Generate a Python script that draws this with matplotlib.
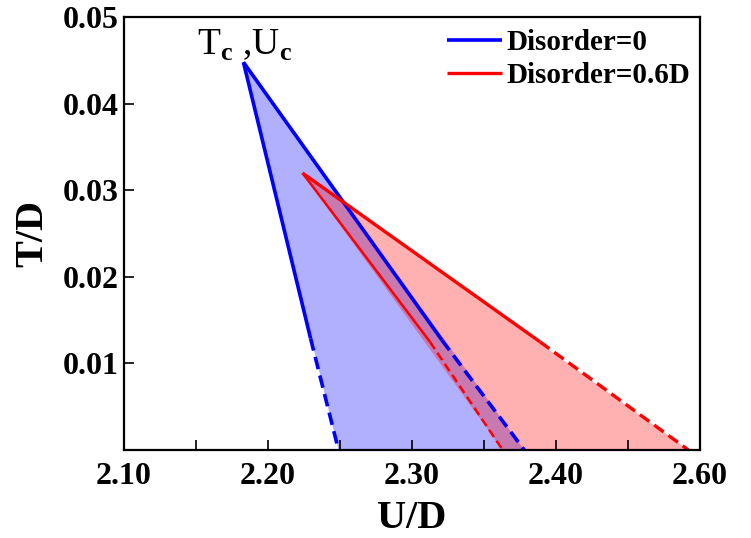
import matplotlib.pyplot as plt

plt.rcParams['font.family'] = 'Liberation Serif'
plt.rcParams['font.weight'] = 'bold'
plt.rcParams['mathtext.fontset'] = 'custom'
plt.rcParams['mathtext.rm'] = 'Liberation Serif'
plt.rcParams['mathtext.bf'] = 'Liberation Serif:bold'

# each boundary: top point, point where solid turns dashed, point at T=0
blue_left_U = [2.183, 2.2296, 2.249]
blue_left_T = [0.0448, 0.0129, 0.0]
blue_right_U = [2.183, 2.3208, 2.378]
blue_right_T = [0.0448, 0.0127, 0.0]
red_left_U = [2.224, 2.3125, 2.363]
red_left_T = [0.032, 0.0125, 0.0]
red_right_U = [2.224, 2.3889, 2.492]
red_right_T = [0.032, 0.0125, 0.0]

xticks = [2.10, 2.15, 2.20, 2.25, 2.30, 2.35, 2.40, 2.45, 2.50]
xticklabels = ['2.10', '', '2.20', '', '2.30', '', '2.40', '', '2.60']
yticks = [0.01, 0.02, 0.03, 0.04, 0.05]
yticklabels = ['0.01', '0.02', '0.03', '0.04', '0.05']

fig = plt.figure(figsize=(7.51, 5.38), dpi=100)
ax = fig.add_axes([0.165, 0.1636, 0.767, 0.8044])

dash = (0, (3.5, 1.8))

# shaded coexistence regions
ax.fill([blue_left_U[0], blue_left_U[2], blue_right_U[2]],
        [blue_left_T[0], blue_left_T[2], blue_right_T[2]],
        color='blue', alpha=0.31, lw=0)
ax.fill([red_left_U[0], red_left_U[2], red_right_U[2]],
        [red_left_T[0], red_left_T[2], red_right_T[2]],
        color='red', alpha=0.31, lw=0)

def boundary(U, T, color, lw, label=None):
    ax.plot(U[:2], T[:2], color=color, lw=lw, solid_capstyle='butt', label=label)
    ax.plot(U[1:], T[1:], color=color, lw=lw, linestyle=dash)

boundary(blue_left_U, blue_left_T, 'blue', 2.6, 'Disorder=0')
boundary(blue_right_U, blue_right_T, 'blue', 2.6)
boundary(red_right_U, red_right_T, 'red', 2.4, 'Disorder=0.6D')
boundary(red_left_U, red_left_T, 'red', 1.8)

ax.text(2.184, 0.0468, r'T$_{\mathbf{c}}$ ,U$_{\mathbf{c}}$', fontsize=27,
        fontweight='normal', ha='center', va='center')

ax.set_xlim(2.10, 2.50)
ax.set_ylim(0, 0.05)
ax.set_xticks(xticks)
ax.set_xticklabels(xticklabels)
ax.set_yticks(yticks)
ax.set_yticklabels(yticklabels)
ax.tick_params(direction='in', length=7, width=1.2, labelsize=23)
ax.tick_params(axis='x', pad=9)
ax.tick_params(axis='y', pad=4)
for s in ax.spines.values():
    s.set_linewidth(1.6)

ax.set_xlabel('U/D', fontsize=29, fontweight='bold', labelpad=6)
ax.set_ylabel('T/D', fontsize=29, fontweight='bold', labelpad=8)

ax.legend(loc='upper left', bbox_to_anchor=(0.561, 0.972), frameon=False,
          fontsize=21, handlelength=1.9, handletextpad=0.15,
          borderpad=0, borderaxespad=0, labelspacing=0.2)

fig.savefig('out.png', dpi=100)
